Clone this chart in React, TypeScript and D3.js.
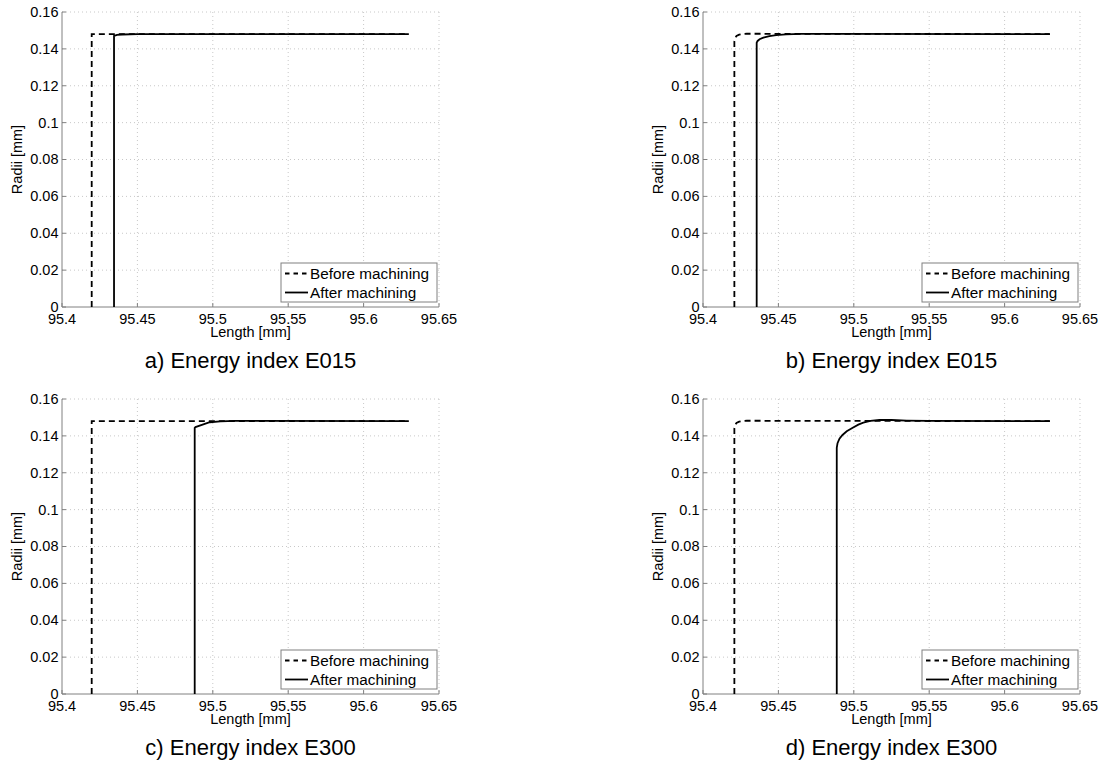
import React, { useEffect, useRef } from 'react'
import * as d3 from 'd3'

// axis ticks
const xTicks = [95.4, 95.45, 95.5, 95.55, 95.6, 95.65]
const xTickLabels = ['95.4', '95.45', '95.5', '95.55', '95.6', '95.65']
const yTicks = [0, 0.02, 0.04, 0.06, 0.08, 0.1, 0.12, 0.14, 0.16]
const yTickLabels = ['0', '0.02', '0.04', '0.06', '0.08', '0.1', '0.12', '0.14', '0.16']

const panelTitles = ['a) Energy index E015', 'b) Energy index E015', 'c) Energy index E300', 'd) Energy index E300']
const legendLabels = ['Before machining', 'After machining']

// before machining, sharp edge (a, c)
const sharpBeforeLength = [95.4197, 95.4197, 95.63]
const sharpBeforeRadius = [0, 0.148, 0.148]

// before machining, rounded edge (b, d)
const roundBeforeLength = [95.4208, 95.4208, 95.4212, 95.4222, 95.424, 95.4265, 95.429, 95.63]
const roundBeforeRadius = [0, 0.144, 0.1458, 0.147, 0.1477, 0.1481, 0.1482, 0.148]

// after machining
const afterALength = [95.4345, 95.4345, 95.4365, 95.44, 95.45, 95.63]
const afterARadius = [0, 0.147, 0.1476, 0.1478, 0.148, 0.148]

const afterBLength = [95.4356, 95.4356, 95.4362, 95.4375, 95.44, 95.444, 95.4485, 95.455, 95.465, 95.48, 95.63]
const afterBRadius = [0, 0.1434, 0.1443, 0.1452, 0.1461, 0.1469, 0.1475, 0.1479, 0.1481, 0.1481, 0.148]

const afterCLength = [95.488, 95.488, 95.4885, 95.498, 95.505, 95.515, 95.63]
const afterCRadius = [0, 0.1444, 0.1448, 0.1474, 0.1479, 0.1481, 0.148]

const afterDLength = [95.4887, 95.4887, 95.4892, 95.4905, 95.4925, 95.4953, 95.499, 95.503, 95.5063, 95.511, 95.517, 95.525, 95.535, 95.55, 95.63]
const afterDRadius = [0, 0.1335, 0.136, 0.1385, 0.1405, 0.1425, 0.1443, 0.1461, 0.1472, 0.1481, 0.1486, 0.1486, 0.1483, 0.1481, 0.148]

const zip = (xs: number[], ys: number[]) => xs.map((x, i) => [x, ys[i]] as [number, number])

const panels = [
  { left: 62, top: 12, title: panelTitles[0], before: zip(sharpBeforeLength, sharpBeforeRadius), after: zip(afterALength, afterARadius) },
  { left: 703, top: 12, title: panelTitles[1], before: zip(roundBeforeLength, roundBeforeRadius), after: zip(afterBLength, afterBRadius) },
  { left: 62, top: 399, title: panelTitles[2], before: zip(sharpBeforeLength, sharpBeforeRadius), after: zip(afterCLength, afterCRadius) },
  { left: 703, top: 399, title: panelTitles[3], before: zip(roundBeforeLength, roundBeforeRadius), after: zip(afterDLength, afterDRadius) },
]

const W = 377
const H = 295
const FONT = '"Liberation Sans", Arial, Helvetica, sans-serif'

export default function App() {
  const ref = useRef<SVGSVGElement>(null)

  useEffect(() => {
    const svg = d3.select(ref.current)
    svg.selectAll('*').remove()

    let x = d3.scaleLinear().domain([95.4, 95.65]).range([0, W])
    let y = d3.scaleLinear().domain([0, 0.16]).range([H, 0])

    let line = d3.line<[number, number]>()
      .x(d => x(d[0]))
      .y(d => y(d[1]))

    panels.forEach(p => {
      let g = svg.append('g').attr('transform', `translate(${p.left},${p.top})`)

      // grid
      g.selectAll('.vgrid').data(xTicks.slice(1)).enter().append('line')
        .attr('x1', d => x(d)).attr('x2', d => x(d))
        .attr('y1', 0).attr('y2', H)
        .attr('stroke', '#c8c8c8').attr('stroke-width', 1)
        .attr('stroke-dasharray', '1,3')
      g.selectAll('.hgrid').data(yTicks.slice(1)).enter().append('line')
        .attr('x1', 0).attr('x2', W)
        .attr('y1', d => y(d)).attr('y2', d => y(d))
        .attr('stroke', '#c8c8c8').attr('stroke-width', 1)
        .attr('stroke-dasharray', '1,3')

      // axes lines + inward ticks
      g.append('line').attr('x1', 0).attr('x2', 0).attr('y1', 0).attr('y2', H)
        .attr('stroke', '#808080').attr('stroke-width', 1)
      g.append('line').attr('x1', 0).attr('x2', W).attr('y1', H).attr('y2', H)
        .attr('stroke', '#808080').attr('stroke-width', 1)
      g.selectAll('.ytick').data(yTicks).enter().append('line')
        .attr('x1', 0).attr('x2', 4)
        .attr('y1', d => y(d)).attr('y2', d => y(d))
        .attr('stroke', '#808080')
      g.selectAll('.xtick').data(xTicks).enter().append('line')
        .attr('x1', d => x(d)).attr('x2', d => x(d))
        .attr('y1', H).attr('y2', H - 4)
        .attr('stroke', '#808080')

      // tick labels
      g.selectAll('.ylab').data(yTicks).enter().append('text')
        .attr('x', -3.5).attr('y', d => y(d)).attr('dy', '0.34em')
        .attr('text-anchor', 'end')
        .style('font-family', FONT).style('font-size', '14.5px')
        .text((d, i) => yTickLabels[i])
      g.selectAll('.xlab').data(xTicks).enter().append('text')
        .attr('x', d => x(d)).attr('y', H + 17)
        .attr('text-anchor', 'middle')
        .style('font-family', FONT).style('font-size', '14.5px')
        .text((d, i) => xTickLabels[i])

      // axis titles
      g.append('text')
        .attr('x', W / 2).attr('y', H + 29.5)
        .attr('text-anchor', 'middle')
        .style('font-family', FONT).style('font-size', '14.5px')
        .text('Length [mm]')
      g.append('text')
        .attr('transform', `translate(-40,${H / 2}) rotate(-90)`)
        .attr('text-anchor', 'middle')
        .style('font-family', FONT).style('font-size', '14.5px')
        .text('Radii [mm]')

      // curves
      g.append('path').datum(p.before)
        .attr('d', line).attr('fill', 'none')
        .attr('stroke', '#000').attr('stroke-width', 1.8)
        .attr('stroke-dasharray', '6,4')
      g.append('path').datum(p.after)
        .attr('d', line).attr('fill', 'none')
        .attr('stroke', '#000').attr('stroke-width', 1.8)

      // legend
      let lg = g.append('g').attr('transform', 'translate(219,251)')
      lg.append('rect').attr('width', 156).attr('height', 39)
        .attr('fill', '#fff').attr('stroke', '#808080').attr('stroke-width', 1)
      legendLabels.forEach((lab, i) => {
        let ly = 10.5 + i * 19
        lg.append('line').attr('x1', 4).attr('x2', 27).attr('y1', ly).attr('y2', ly)
          .attr('stroke', '#000').attr('stroke-width', 1.8)
          .attr('stroke-dasharray', i === 0 ? '4.5,4' : null)
        lg.append('text').attr('x', 29).attr('y', ly).attr('dy', '0.36em')
          .style('font-family', FONT).style('font-size', '15.3px')
          .text(lab)
      })

      // panel title
      g.append('text')
        .attr('x', W / 2).attr('y', H + 61)
        .attr('text-anchor', 'middle')
        .style('font-family', FONT).style('font-size', '22px')
        .text(p.title)
    })
  }, [])

  return (
    <svg ref={ref} width={1109} height={764}
      style={{ position: 'absolute', left: 0, top: 0, background: '#fff' }} />
  )
}
